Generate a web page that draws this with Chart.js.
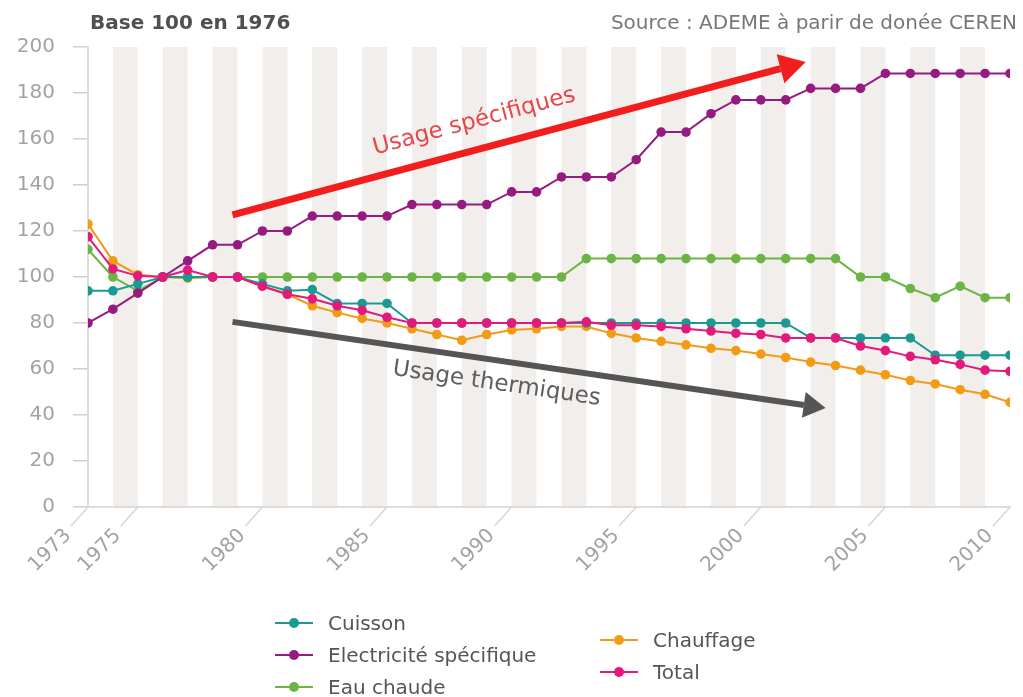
<!DOCTYPE html>
<html>
<head>
<meta charset="utf-8">
<script src="https://cdn.jsdelivr.net/npm/chart.js@4.4.0/dist/chart.umd.min.js"></script>
<style>
  body { margin: 0; background: #fff; font-family: "DejaVu Sans", sans-serif; }
  #wrap { position: relative; width: 1023px; height: 697px; overflow: hidden; }
  #chart { position: absolute; left: 0; top: 0; }
  .note { position: absolute; white-space: nowrap; line-height: 28px; }
  #base { left: 90px; top: 8px; font-size: 20px; font-weight: bold; color: #505050; }
  #source { right: 6px; top: 8px; font-size: 20px; color: #777; }
  .col { position: absolute; }
  #colA { left: 275px; top: 607px; }
  #colB { left: 600px; top: 624px; }
  .item { display: flex; align-items: center; height: 32px; font-size: 20px; color: #555; white-space: nowrap; }
  .mark { position: relative; width: 38px; height: 2px; margin-right: 15px; }
  .mark span { position: absolute; left: 14px; top: -4px; width: 10px; height: 10px; border-radius: 50%; }
</style>
</head>
<body>
<div id="wrap">
  <canvas id="chart" width="1023" height="697"></canvas>
  <div class="note" id="base">Base 100 en 1976</div>
  <div class="note" id="source">Source : ADEME à parir de donée CEREN</div>
  <div class="col" id="colA"></div>
  <div class="col" id="colB"></div>
</div>
<script>
var years = [1973, 1974, 1975, 1976, 1977, 1978, 1979, 1980, 1981, 1982,
             1983, 1984, 1985, 1986, 1987, 1988, 1989, 1990, 1991, 1992,
             1993, 1994, 1995, 1996, 1997, 1998, 1999, 2000, 2001, 2002,
             2003, 2004, 2005, 2006, 2007, 2008, 2009, 2010];
var xTickYears = [1973, 1975, 1980, 1985, 1990, 1995, 2000, 2005, 2010];

var cuisson = [94, 94, 97, 100, 100, 100, 100, 97, 94, 94.5,
               88.5, 88.5, 88.5, 80, 80, 80, 80, 80, 80, 80,
               80, 80, 80, 80, 80, 80, 80, 80, 80, 73.5,
               73.5, 73.5, 73.5, 73.5, 66, 66, 66, 66];
var electricite = [80, 86, 93, 100, 107, 114, 114, 120, 120, 126.5,
                   126.5, 126.5, 126.5, 131.5, 131.5, 131.5, 131.5, 137, 137, 143.5,
                   143.5, 143.5, 151, 163, 163, 171, 177, 177, 177, 182,
                   182, 182, 188.5, 188.5, 188.5, 188.5, 188.5, 188.5];
var eauChaude = [112, 100, 94, 100, 100, 100, 100, 100, 100, 100,
                 100, 100, 100, 100, 100, 100, 100, 100, 100, 100,
                 108, 108, 108, 108, 108, 108, 108, 108, 108, 108,
                 108, 100, 100, 95, 91, 96, 91, 91];
var chauffage = [123, 107, 101, 100, 99.5, 100, 100, 96, 92.5, 87.5,
                 84.5, 82, 80, 77.5, 75, 72.5, 75, 77, 77.5, 78.5,
                 78.5, 75.5, 73.5, 72, 70.5, 69, 68, 66.5, 65, 63,
                 61.5, 59.5, 57.5, 55, 53.5, 51, 49, 45.5];
var total = [117.5, 103.5, 100.5, 100, 103, 100, 100, 96, 92.5, 90.5,
             87.5, 85.5, 82.5, 80, 80, 80, 80, 80, 80, 80,
             80.5, 79, 79, 78.5, 77.5, 76.5, 75.5, 75, 73.5, 73.5,
             73.5, 70, 68, 65.5, 64, 62, 59.5, 59];

// annotation arrows, in data units: [year, value]
var arrowSpecific = { from: [1978.8, 127], to: [2001.8, 193.5], text: "Usage spécifiques", at: [1988.5, 167.5] };
var arrowThermal = { from: [1978.8, 80.5], to: [2002.6, 43], text: "Usage thermiques", at: [1989.4, 53.5] };

function pairs(values) {
    return years.map(function (yr, i) { return { x: yr, y: values[i] }; });
}

function serie(label, values, color, order) {
    return {
        label: label,
        data: pairs(values),
        borderColor: color,
        backgroundColor: color,
        pointBackgroundColor: color,
        pointBorderWidth: 0,
        pointRadius: 4.8,
        pointHoverRadius: 4.8,
        borderWidth: 2,
        order: order
    };
}

var stripes = {
    id: 'stripes',
    beforeDraw: function (chart) {
        var x = chart.scales.x, area = chart.chartArea, ctx = chart.ctx;
        ctx.save();
        ctx.fillStyle = '#f1eeec';
        years.forEach(function (yr) {
            if (yr % 2 === 0 && yr < 2010) {
                var a = x.getPixelForValue(yr), b = x.getPixelForValue(yr + 1);
                ctx.fillRect(a, area.top, b - a, area.bottom - area.top);
            }
        });
        ctx.restore();
    },
    afterDraw: function (chart) {
        // slanted tick marks under the x axis
        var x = chart.scales.x, area = chart.chartArea, ctx = chart.ctx;
        ctx.save();
        ctx.strokeStyle = '#d6d6d6';
        ctx.lineWidth = 1.5;
        xTickYears.forEach(function (yr) {
            var px = x.getPixelForValue(yr);
            ctx.beginPath();
            ctx.moveTo(px, area.bottom);
            ctx.lineTo(px - 17, area.bottom + 19);
            ctx.stroke();
        });
        ctx.restore();
    }
};

function drawArrow(chart, spec, color, width, headLen, headWid, textColor) {
    var x = chart.scales.x, y = chart.scales.y, ctx = chart.ctx;
    var x0 = x.getPixelForValue(spec.from[0]), y0 = y.getPixelForValue(spec.from[1]);
    var x1 = x.getPixelForValue(spec.to[0]), y1 = y.getPixelForValue(spec.to[1]);
    var ang = Math.atan2(y1 - y0, x1 - x0);
    var bx = x1 - headLen * Math.cos(ang), by = y1 - headLen * Math.sin(ang);
    ctx.save();
    ctx.strokeStyle = color;
    ctx.lineWidth = width;
    ctx.beginPath();
    ctx.moveTo(x0, y0);
    ctx.lineTo(bx, by);
    ctx.stroke();
    ctx.fillStyle = color;
    ctx.beginPath();
    ctx.moveTo(x1, y1);
    ctx.lineTo(bx + headWid / 2 * Math.sin(ang), by - headWid / 2 * Math.cos(ang));
    ctx.lineTo(bx - headWid / 2 * Math.sin(ang), by + headWid / 2 * Math.cos(ang));
    ctx.closePath();
    ctx.fill();
    ctx.translate(x.getPixelForValue(spec.at[0]), y.getPixelForValue(spec.at[1]));
    ctx.rotate(ang);
    ctx.fillStyle = textColor;
    ctx.font = '23px "DejaVu Sans"';
    ctx.textAlign = 'center';
    ctx.textBaseline = 'middle';
    ctx.fillText(spec.text, 0, 0);
    ctx.restore();
}

var arrows = {
    id: 'arrows',
    afterDatasetsDraw: function (chart) {
        drawArrow(chart, arrowSpecific, '#f21d1d', 7, 26, 30, '#e8464a');
        drawArrow(chart, arrowThermal, '#555555', 6, 22, 26, '#5e5e5e');
    }
};

var tickFont = { family: 'DejaVu Sans', size: 20 };

var ctx = document.getElementById("chart").getContext("2d");
var chart = new Chart(ctx, {
    type: 'line',
    data: {
        datasets: [
            serie("Cuisson", cuisson, '#1b9a93', 2),
            serie("Electricité spécifique", electricite, '#951b81', 1),
            serie("Eau chaude", eauChaude, '#6cb444', 3),
            serie("Chauffage", chauffage, '#f29b15', 4),
            serie("Total", total, '#e3197b', 0)
        ]
    },
    options: {
        responsive: false,
        animation: false,
        layout: { padding: { top: 47, right: 13, bottom: 90, left: 0 } },
        plugins: {
            legend: { display: false },
            tooltip: { enabled: false }
        },
        scales: {
            x: {
                type: 'linear',
                min: 1973,
                max: 2010,
                afterBuildTicks: function (s) {
                    s.ticks = xTickYears.map(function (v) { return { value: v }; });
                },
                afterFit: function (s) {
                    s.height = 100;
                    s.paddingLeft = 0;
                    s.paddingRight = 0;
                },
                ticks: {
                    autoSkip: false,
                    minRotation: 45,
                    maxRotation: 45,
                    labelOffset: -20,
                    padding: 9,
                    color: '#a3a3a3',
                    font: tickFont,
                    callback: function (v) { return String(v); }
                },
                grid: { display: false },
                border: { display: true, color: '#dcdcdc', width: 2 }
            },
            y: {
                min: 0,
                max: 200,
                afterFit: function (s) {
                    s.width = 88;
                    s.paddingTop = 0;
                    s.paddingBottom = 0;
                },
                ticks: { stepSize: 20, color: '#a3a3a3', font: tickFont, padding: 18 },
                grid: { drawOnChartArea: false, drawTicks: true, tickLength: 15, color: '#cfcfcf', lineWidth: 1.5 },
                border: { display: true, color: '#dcdcdc', width: 2 }
            }
        }
    },
    plugins: [stripes, arrows]
});

// legend: three entries on the left, two on the right
chart.data.datasets.forEach(function (ds, i) {
    var item = document.createElement('div');
    item.className = 'item';
    item.innerHTML = '<div class="mark" style="background:' + ds.borderColor + '"><span style="background:' +
        ds.borderColor + '"></span></div>' + ds.label;
    document.getElementById(i < 3 ? 'colA' : 'colB').appendChild(item);
});
</script>
</body>
</html>
